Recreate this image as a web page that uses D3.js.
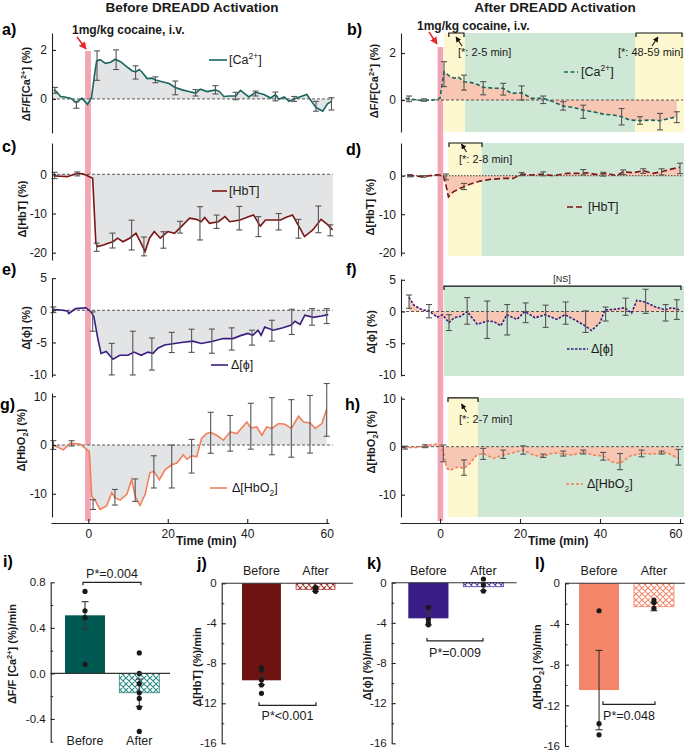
<!DOCTYPE html>
<html><head><meta charset="utf-8">
<script src="https://cdn.jsdelivr.net/npm/d3@7/dist/d3.min.js"></script>
<style>html,body{margin:0;padding:0;background:#fff;}svg{display:block;font-family:Arial,"Liberation Sans",Helvetica,sans-serif;}</style>
</head><body><script>
// ---------------- DATA ----------------
const timeTicks=[0,20,40,60];
const caBefore=[[-8.7,0.37],[-8,0.3],[-7,0.1],[-6,0.08],[-4.5,0.03],[-3,-0.15],[-1.6,0.03],[-0.2,-0.22],[0.8,0.05],[1.5,0.9],[2.1,1.55],[3,1.6],[4.3,1.45],[5.6,1.5],[6.8,1.62],[8.1,1.52],[9.8,1.3],[11,1.15],[11.9,1.1],[12.8,1.2],[13.5,1.1],[14.8,0.83],[16,0.85],[16.9,0.77],[18.6,0.7],[20.3,0.63],[21.9,0.47],[23.6,0.37],[25.3,0.3],[27,0.24],[28.2,0.4],[29.9,0.3],[32,0.37],[33,0.3],[34.1,0.1],[35.5,0.12],[37.1,0.12],[38.3,0.35],[39.5,0.2],[40.4,0.08],[42.1,0.27],[44.2,0.18],[45.9,0.04],[47.1,0.18],[48,-0.01],[49.3,0.08],[50.5,-0.1],[51.8,0.0],[53.5,0.1],[55,0.18],[56.4,-0.15],[57.3,-0.35],[59,-0.5],[60.2,-0.2],[61.2,-0.1]];
const caBeforeErr=[[-8.4,0.35,0.12],[-3,-0.25,0.13],[2.2,1.36,0.6],[7,1.6,0.4],[11.9,1.08,0.27],[16.9,0.78,0.12],[21.9,0.45,0.28],[27,0.25,0.13],[32,0.37,0.17],[37.1,0.12,0.15],[42.1,0.22,0.1],[47.1,0.1,0.18],[51.8,0.0,0.1],[57.3,-0.3,0.2],[61.2,-0.2,0.25]];
const caAfter=[[-8.6,0.07],[-7.5,0.05],[-5.7,0],[-4.2,-0.02],[-1.7,0],[0,0.07],[1,1.2],[2.5,1.0],[3.5,0.93],[4.6,0.97],[6,0.78],[7.9,0.74],[9.5,0.65],[10.8,0.54],[13.3,0.5],[15.8,0.5],[17.9,0.28],[20.4,0.31],[22.9,0.07],[25.8,0.07],[28.3,-0.07],[30.8,-0.26],[33.3,-0.31],[35.8,-0.43],[38.3,-0.5],[40.8,-0.6],[43.3,-0.64],[45.4,-0.71],[47.5,-0.85],[50,-0.88],[52.5,-0.85],[55,-0.88],[57.5,-0.78],[59.2,-0.71]];
const caAfterErr=[[-7.75,0.05,0.12],[-4,0,0.05],[1,1.1,0.53],[6,0.74,0.32],[10.8,0.5,0.28],[15.8,0.46,0.25],[20.4,0.3,0.3],[25.8,0.01,0.16],[30.8,-0.25,0.18],[35.8,-0.5,0.28],[45.4,-0.71,0.35],[50,-0.87,0.16],[55,-0.92,0.35],[59.2,-0.73,0.23]];
const hbtBefore=[[-8.7,-0.4],[-7,-0.5],[-5.3,-0.6],[-4,-0.2],[-2.8,0.25],[-1.5,0.1],[-0.6,-0.2],[1.1,-1.0],[1.9,-17.6],[2.4,-18.45],[4,-18.0],[5,-17.6],[6.2,-17.2],[7.4,-16.3],[8.7,-17.2],[10.4,-16.3],[12,-15.05],[13.3,-17.6],[14.3,-19.7],[15.4,-16.3],[16.6,-14.6],[18.1,-16.3],[20,-14.6],[21.7,-15.05],[23.4,-13.35],[25.5,-11.2],[27.2,-11.5],[28.4,-12.1],[29.3,-11.0],[30.5,-12.5],[32.7,-12.1],[34.4,-10.8],[35.6,-12.1],[38.2,-11.65],[40.3,-10.8],[41.6,-10.4],[43.3,-13.2],[44.6,-11.65],[46.3,-11.65],[48.4,-11.65],[49.7,-11.0],[51.4,-10.4],[53.5,-14.2],[54.4,-15.9],[56.5,-14.2],[58.6,-11.5],[60.3,-12.9],[61.5,-14.2]];
const hbtBeforeErr=[[-8.5,-0.3,0.8],[-2.8,0.1,0.5],[2.1,-18.6,1.06],[6.1,-16.9,1.9],[10.9,-15.5,3.8],[14,-18.4,2.4],[18.9,-16.75,2.1],[23.1,-13.5,1.5],[28.1,-12.5,4.25],[32.3,-12.1,1.7],[38,-11.2,3],[42.8,-13.35,2.55],[47.9,-12.1,2.1],[52.9,-13.9,2.4],[57.9,-11.5,3.4],[60.9,-14.3,1.4]];
const hbtAfter=[[-8,0],[-6,-0.1],[-4.2,-0.26],[-2,0.1],[-0.8,0.26],[0.8,0.17],[1.4,-2],[2.1,-5.5],[3.3,-4.2],[5,-3.3],[7.5,-2.2],[10,-1.4],[12.5,-0.96],[15.8,-0.7],[18.3,-0.7],[20.4,0.43],[22.9,0.17],[25.8,0.43],[28.3,0],[31.7,0.6],[34.2,0.6],[36.7,0.78],[38.8,0.35],[41.7,0.6],[44.2,0],[45.8,1.04],[48.3,0.78],[50.8,1.3],[53.3,0.6],[55.4,1.04],[57.5,1.65],[60,2.2]];
const hbtAfterErr=[[-7.5,0,0.3],[-4.2,-0.2,0.2],[1.5,-0.3,0.75],[6,-2.8,0.8],[20.4,0.43,0.4],[25.8,0.5,0.5],[35.8,0.9,0.7],[40.8,0.4,0.5],[45.8,0.9,0.6],[50.8,1.2,0.6],[55.4,1.0,0.8],[60,1.9,1.35]];
const phiBefore=[[-8.7,0.1],[-7,0.05],[-5.3,-0.1],[-4.9,-0.5],[-3.2,0.26],[-0.6,0.4],[0.7,-0.26],[1.4,-1],[2.4,-4.4],[3.2,-6.7],[4.5,-6.4],[6.2,-7.6],[7.9,-7.0],[10,-7.0],[11.5,-6.5],[13.3,-7.0],[15,-6.5],[16.3,-6.7],[17.5,-5.9],[19.2,-5.4],[21.3,-5.2],[23.4,-5.0],[26.3,-4.8],[28.4,-5.15],[31.4,-4.8],[33.9,-4.4],[36.4,-4.4],[38.5,-3.9],[40.2,-3.6],[41.4,-3.9],[42.7,-3.1],[43.5,-3.9],[44.4,-2.6],[46.5,-3.1],[49,-2.7],[51.1,-2.3],[52,-1.7],[53.3,-2.2],[54.5,-0.77],[56.6,-1.1],[58.7,-0.9],[60.4,-0.67]];
const phiBeforeErr=[[-8.8,0.08,0.44],[1.1,-1.75,1.5],[5.9,-7.6,2.45],[11.2,-6.65,3.4],[16,-6.8,2.5],[21,-5.0,1.57],[26,-4.74,1.8],[31.1,-4.8,1.88],[36.1,-4.46,1.73],[41.2,-4.25,1.16],[46.2,-3.17,1.62],[51.2,-1.8,1.96],[56.3,-1.03,1.29],[60,-0.9,1.16]];
const phiAfter=[[-7.75,2.25],[-6.5,1.0],[-4.4,0.25],[-2.75,0.1],[-0.7,-0.9],[0.6,-0.5],[2.25,-1.75],[3.5,-1.0],[5.2,-0.75],[6.8,0],[9.3,-2.0],[11.8,-1.5],[13.5,-1.6],[15.2,-2.25],[16.7,-0.5],[19.2,-1.25],[21.25,0],[23.75,-1.0],[26.25,-0.5],[29.2,-1.25],[31.25,-0.5],[34.2,-1.5],[36.25,-2.25],[37.9,-3.0],[40,-1.75],[41.25,0.25],[43.75,0.35],[46.25,0.6],[47.9,-0.25],[49.2,1.75],[51.25,1.5],[53.75,0.75],[56.25,0.25],[57.9,0.6],[60,0.25]];
const phiAfterErr=[[-7.75,1.55,1.05],[-2.75,0.05,1.05],[2.25,-1.75,1.25],[6.8,0.1,2.1],[11.8,-1.3,2.95],[16.8,-1.3,2.4],[21.4,-0.2,1.55],[26.4,-0.75,1.75],[31.4,-0.25,1.75],[36.4,-1.6,1.7],[41.4,-0.4,1.1],[46.4,0.75,1.35],[51.4,1.6,1.9],[56.4,-0.2,1.3],[59.2,0.3,1.55]];
const hbo2Before=[[-8.8,0],[-6.3,-1.0],[-4.6,0.34],[-2.1,0.2],[-0.24,-1.0],[0.26,-1.35],[0.85,-10.5],[1.7,-11.3],[2.95,-13.2],[4.6,-12.5],[5.9,-9.8],[6.7,-10.8],[8.0,-11.3],[9.7,-10.1],[10.9,-7.1],[11.8,-10.5],[13.0,-12.4],[14.3,-10.1],[15.5,-5.7],[16.5,-5.4],[17.9,-7.1],[19.3,-5.1],[21.0,-4.05],[22.3,-3.7],[23.9,-2.0],[24.8,-2.9],[26.0,-2.2],[27.3,-2.4],[28.5,1.35],[29.8,2.36],[30.8,2.6],[32.3,2.0],[34.0,1.0],[35.7,2.7],[37.4,2.36],[39.9,4.7],[40.9,3.5],[42.4,3.7],[43.7,2.0],[44.9,3.7],[46.2,3.4],[47.9,4.4],[49.5,4.25],[51.1,3.4],[52.9,5.9],[54.2,4.7],[55.8,4.5],[57.1,3.4],[58.8,4.4],[60.0,7.4]];
const hbo2BeforeErr=[[-8.8,0,0.9],[-4.2,0.34,0.54],[1.2,-12.2,1],[6.7,-10.7,1.6],[11.8,-9.25,2.3],[16.5,-5.5,3.3],[21,-4.4,4.4],[26,-2.3,3.45],[30.8,2.5,4.2],[35.7,2.4,3.65],[40.9,3.85,4.7],[46.2,3.85,5.85],[51.1,3.4,5.9],[55.8,4.25,5.9],[60,7.2,5.4]];
const hbo2After=[[-9,-0.2],[-5.8,-0.15],[-3.75,0.2],[-0.83,0.56],[0,0.14],[0.83,-1.05],[1.67,-4.5],[2.5,-4.9],[4.6,-4.2],[6,-4.55],[7.5,-3.5],[9.2,-1.75],[10.8,-1.4],[13.3,-2.45],[15.8,-1.75],[18.3,-1.26],[20.8,-0.7],[23.3,-1.75],[25.8,-2.1],[28.3,-1.26],[30.8,-1.54],[33.3,-1.75],[35.8,-1.05],[38.3,-1.75],[40.8,-1.96],[42.9,-3.15],[45,-3.5],[47.5,-1.96],[50.4,-1.4],[52.9,-1.54],[55.4,-1.26],[57.1,-1.4],[59.6,-2.45]];
const hbo2AfterErr=[[-8.75,-0.2,0.3],[-3.75,0.1,0.3],[0.83,-1.4,1.75],[6,-4.35,1.6],[10.8,-1.5,1.15],[15.8,-1.57,0.87],[20.8,-0.7,0.87],[25.8,-1.9,0.35],[30.8,-1.43,0.52],[35.8,-1.12,0.42],[40.8,-2.0,0.8],[45,-3.1,1.68],[50.4,-1.4,0.7],[55.4,-1.22,0.31],[59.6,-2.2,1.64]];

const barGroups=["Before","After"];
const caRateMean=[0.51,-0.17], caRateErr=[0.12,0.12], caRatePts=[[0.72,0.55,0.49,0.08],[0.18,0,-0.09,-0.17,-0.22,-0.3,-0.51]];
const hbtRateMean=[-9.7,-0.6], hbtRateErr=[0.43,0.2], hbtRatePts=[[-8.44,-8.67,-9.67,-10.17,-11.0],[-0.4,-0.6,-0.8]];
const phiRateMean=[-3.55,-0.4], phiRateErr=[0.65,0.4], phiRatePts=[[-2.45,-3.65,-4.0,-4.2],[0.37,-0.23,-0.83]];
const hbo2RateMean=[-10.5,-2.3], hbo2RateErr=[3.9,0.4], hbo2RatePts=[[-2.7,-13.8,-14.9],[-1.64,-1.9,-2.46]];
const pLabels=["P*=0.004","P*<0.001","P*=0.009","P*=0.048"];

// ---------------- DRAW ----------------
const GREEN="#cfe8d5", YELLOW="#fdf8cf", PINK="#f2a6b3", TXT="#1a1a1a";
const svg=d3.select("body").append("svg").attr("width",685).attr("height",751);
const defs=svg.append("defs");
function marker(id,color){
  defs.append("marker").attr("id",id).attr("viewBox","0 0 10 10").attr("refX",9).attr("refY",5)
   .attr("markerWidth",5).attr("markerHeight",5).attr("orient","auto")
   .append("path").attr("d","M0,0L10,5L0,10z").attr("fill",color);
}
marker("arrRed","#e8262b"); marker("arrBlk","#111");
function hatch(id,color){
  const p=defs.append("pattern").attr("id",id).attr("patternUnits","userSpaceOnUse").attr("width",6).attr("height",6);
  p.append("rect").attr("width",6).attr("height",6).attr("fill","#fff");
  p.append("path").attr("d","M0,0L6,6M6,0L0,6M-1,5L1,7M5,-1L7,1M-1,1L1,-1M5,7L7,5").attr("stroke",color).attr("stroke-width",1.1);
}
const L={bg:svg.append("g"),pink:svg.append("g"),data:svg.append("g"),fg:svg.append("g")};

function rich(g,x,y,parts,o={}){
  const size=o.size||12;
  const t=g.append("text").attr("x",x).attr("y",y).attr("font-size",size).attr("fill",o.fill||TXT)
    .attr("font-weight",o.bold?"bold":null).attr("text-anchor",o.anchor||"start");
  if(o.rotate) t.attr("transform",`rotate(-90,${x},${y})`);
  let off=0;
  parts.forEach(([s,m])=>{
    const sp=t.append("tspan").text(s);
    const target=m==="sup"?-size*0.38:m==="sub"?size*0.28:0;
    if(target!==off){sp.attr("dy",target-off);off=target;}
    if(m) sp.attr("font-size",size*0.68);
  });
  return t;
}

const xL=d3.scaleLinear().domain([0,60]).range([88.3,326.7]);
const xR=d3.scaleLinear().domain([0,60]).range([440,680]);

const caLab=[["ΔF/F[Ca"],["2+","sup"],["] (%)"]], caLeg=[["[Ca"],["2+","sup"],["]"]];
const hbo2Lab=[["Δ[HbO"],["2","sub"],["] (%)"]], hbo2Leg=[["Δ[HbO"],["2","sub"],["]"]];
const tsPanels=[
 {x:xL,axX:52,dom:[-1.39,2.69],rng:[133,33],ticks:[0,2],data:caBefore,err:caBeforeErr,color:"#17665e",dash:null,fill:"#e3e4e6",
  ylab:caLab,ylx:30,yly:84,leg:{x0:209,x1:227,y:60,ty:64,tx:229,parts:caLeg},letter:["a)",2,35]},
 {x:xR,axX:401,dom:[-1.36,2.85],rng:[132,33],ticks:[0,2],data:caAfter,err:caAfterErr,color:"#17665e",dash:"4,2.5",fill:"#f7c7b3",
  ylab:caLab,ylx:378,yly:81,leg:{x0:564,x1:578,y:72,ty:76,tx:581,parts:caLeg},letter:["b)",347,35],
  bg:{hi:2.85,green:[1,61],yellow:[[1,6.25],[48.75,61]]},
  brackets:[{t0:2.2,t1:6,label:"[*: 2-5 min]",lx:458,ly:56,arrow:[462,46,456,37]},{t0:49,t1:60.5,label:"[*: 48-59 min]",lx:618,ly:56,arrow:[652,46,658,37]}]},
 {x:xL,axX:52,dom:[-21.86,7.98],rng:[260,143],ticks:[-20,-10,0],data:hbtBefore,err:hbtBeforeErr,color:"#7a1616",dash:null,fill:"#e3e4e6",
  ylab:[["Δ[HbT] (%)"]],ylx:26,yly:209,leg:{x0:212,x1:227,y:191,ty:195,tx:229,parts:[["[HbT]"]]},letter:["c)",2,152]},
 {x:xR,axX:401,dom:[-20.86,8.5],rng:[256,143],ticks:[-20,-10,0],data:hbtAfter,err:hbtAfterErr,color:"#7a1616",dash:"6,3",fill:"#f7c7b3",zdash:"1.5,1.5",
  ylab:[["Δ[HbT] (%)"]],ylx:374,yly:207,leg:{x0:567,x1:585,y:207,ty:211,tx:588,parts:[["[HbT]"]]},letter:["d)",346,155],
  bg:{hi:8.5,green:[2,61],yellow:[[2,10.4]]},
  brackets:[{t0:2.25,t1:10.5,label:"[*: 2-8 min]",lx:459,ly:163,arrow:[466.5,152,461.5,144]}]},
 {x:xL,axX:52,dom:[-10.37,5.02],rng:[377,278],ticks:[-10,-5,0,5],data:phiBefore,err:phiBeforeErr,color:"#3a1c80",dash:null,fill:"#e3e4e6",
  ylab:[["Δ[ϕ] (%)"]],ylx:30,yly:328,leg:{x0:211,x1:228,y:365,ty:369,tx:231,parts:[["Δ[ϕ]"]]},letter:["e)",2,275]},
 {x:xR,axX:401,dom:[-10.16,5.12],rng:[376,279],ticks:[-10,-5,0,5],data:phiAfter,err:phiAfterErr,color:"#3a1c80",dash:"2.5,1.5",fill:"#f7c7b3",
  ylab:[["Δ[ϕ] (%)"]],ylx:375,yly:332,leg:{x0:567,x1:588,y:349,ty:353,tx:591,parts:[["Δ[ϕ]"]]},letter:["f)",346,275],
  bg:{hi:4.0,green:[1,61],yellow:[]},
  brackets:[{t0:1,t1:60.25,label:"[NS]",lx:562,ly:282,anchor:"middle",size:9}]},
 {x:xL,axX:52,dom:[-14.75,10.66],rng:[517,393],ticks:[-10,0,10],data:hbo2Before,err:hbo2BeforeErr,color:"#f27f5b",dash:null,fill:"#e3e4e6",
  ylab:hbo2Lab,ylx:25,yly:440,leg:{x0:210,x1:227,y:488,ty:492,tx:232,parts:hbo2Leg},letter:["g)",0,410]},
 {x:xR,axX:401,dom:[-14.65,10.56],rng:[517,396],ticks:[-10,0,10],data:hbo2After,err:hbo2AfterErr,color:"#f27f5b",dash:"3,2",fill:"#f7c7b3",
  ylab:hbo2Lab,ylx:375,yly:442,leg:{x0:566,x1:583,y:484,ty:488,tx:587,parts:hbo2Leg},letter:["h)",345,410],
  bg:{hi:10.15,green:[2,61],yellow:[[2,9.5]]},
  brackets:[{t0:2,t1:9.5,label:"[*: 2-7 min]",lx:459,ly:423,arrow:[466.5,412,461.5,404]}]}
];

tsPanels.forEach(p=>{
  const x=p.x, y=d3.scaleLinear().domain(p.dom).range(p.rng);
  const xb=p.x===xL?61.5:60.8;
  if(p.bg){
    const yt=y(p.bg.hi), yb=p.rng[0];
    L.bg.append("rect").attr("x",x(p.bg.green[0])).attr("y",yt).attr("width",x(p.bg.green[1])-x(p.bg.green[0])).attr("height",yb-yt).attr("fill",GREEN);
    p.bg.yellow.forEach(([a,b])=>L.bg.append("rect").attr("x",x(a)).attr("y",yt).attr("width",x(b)-x(a)).attr("height",yb-yt).attr("fill",YELLOW));
    (p.brackets||[]).forEach(b=>{
      const by=yt;
      L.fg.append("path").attr("d",`M${x(b.t0)},${by+4}V${by}H${x(b.t1)}V${by+4}`).attr("fill","none").attr("stroke","#111").attr("stroke-width",1.2);
      L.fg.append("text").attr("x",b.lx).attr("y",b.ly).attr("font-size",b.size||11).attr("text-anchor",b.anchor||"start").attr("fill",TXT).text(b.label);
      if(b.arrow) L.fg.append("line").attr("x1",b.arrow[0]).attr("y1",b.arrow[1]).attr("x2",b.arrow[2]).attr("y2",b.arrow[3]).attr("stroke","#111").attr("stroke-width",1.1).attr("marker-end","url(#arrBlk)");
    });
  }
  L.data.append("path").datum(p.data).attr("d",d3.area().x(d=>x(d[0])).y0(y(0)).y1(d=>y(d[1]))).attr("fill",p.fill);
  L.data.append("line").attr("x1",p.axX).attr("x2",x(xb)).attr("y1",y(0)).attr("y2",y(0))
    .attr("stroke","#333").attr("stroke-width",p.zdash?1.1:0.8).attr("stroke-dasharray",p.zdash||"3,2");
  L.data.append("path").datum(p.data).attr("d",d3.line().x(d=>x(d[0])).y(d=>y(d[1]))).attr("fill","none")
    .attr("stroke",p.color).attr("stroke-width",1.6).attr("stroke-dasharray",p.dash);
  const eg=L.data.append("g").attr("stroke","#555").attr("stroke-width",1.1);
  p.err.forEach(([t,m,e])=>{
    const cx=x(t);
    eg.append("line").attr("x1",cx).attr("x2",cx).attr("y1",y(m-e)).attr("y2",y(m+e));
    eg.append("line").attr("x1",cx-3).attr("x2",cx+3).attr("y1",y(m-e)).attr("y2",y(m-e));
    eg.append("line").attr("x1",cx-3).attr("x2",cx+3).attr("y1",y(m+e)).attr("y2",y(m+e));
  });
  const ax=L.fg.append("g").attr("transform",`translate(${p.axX},0)`)
    .call(d3.axisLeft(y).tickValues(p.ticks).tickSizeInner(-4).tickSizeOuter(0).tickPadding(5).tickFormat(v=>String(v)));
  ax.attr("font-family",null).attr("font-size",12);
  ax.selectAll("text").attr("fill",TXT);
  ax.selectAll("line,path").attr("stroke","#222").attr("stroke-width",1.1);
  rich(L.fg,p.ylx,p.yly,p.ylab,{size:11,bold:true,rotate:true,anchor:"middle"});
  L.fg.append("line").attr("x1",p.leg.x0).attr("x2",p.leg.x1).attr("y1",p.leg.y).attr("y2",p.leg.y)
    .attr("stroke",p.color).attr("stroke-width",1.6).attr("stroke-dasharray",p.dash);
  rich(L.fg,p.leg.tx,p.leg.ty,p.leg.parts,{size:12.5});
  L.fg.append("text").attr("x",p.letter[1]).attr("y",p.letter[2]).attr("font-size",16).attr("font-weight","bold").attr("fill","#000").text(p.letter[0]);
});

// pink injection bars
L.pink.append("rect").attr("x",xL(-0.8)).attr("width",xL(0.65)-xL(-0.8)).attr("y",51).attr("height",470).attr("fill",PINK);
L.pink.append("rect").attr("x",xR(-0.6)).attr("width",xR(0.8)-xR(-0.6)).attr("y",47).attr("height",474).attr("fill",PINK);

// time axes
[[xL,51,329,176],[xR,400,683,528]].forEach(([x,a,b,lx],ci)=>{
  const xs=x.copy().domain([x.invert(a),x.invert(b)]).range([a,b]);
  const ax=L.fg.append("g").attr("transform","translate(0,523)")
    .call(d3.axisBottom(xs).tickValues(timeTicks).tickSizeInner(-4).tickSizeOuter(0).tickPadding(6.5).tickFormat(v=>String(v)));
  ax.attr("font-family",null).attr("font-size",12);
  ax.selectAll("text").attr("fill",TXT);
  if(ci===1) ax.selectAll(".tick text").filter(d=>d===60).attr("text-anchor","end").attr("dx",2);
  ax.selectAll("line,path").attr("stroke","#222").attr("stroke-width",1.1);
  L.fg.append("text").attr("x",lx).attr("y",545).attr("font-size",12).attr("font-weight","bold").attr("fill",TXT).text("Time (min)");
});

// titles & annotations
L.fg.append("text").attr("x",192).attr("y",12).attr("text-anchor","middle").attr("font-size",13.5).attr("font-weight","bold").attr("fill",TXT).text("Before DREADD Activation");
L.fg.append("text").attr("x",555).attr("y",12).attr("text-anchor","middle").attr("font-size",13.5).attr("font-weight","bold").attr("fill",TXT).text("After DREADD Activation");
L.fg.append("text").attr("x",72).attr("y",34).attr("font-size",12).attr("font-weight","bold").attr("fill",TXT).text("1mg/kg cocaine, i.v.");
L.fg.append("text").attr("x",417).attr("y",30).attr("font-size",12).attr("font-weight","bold").attr("fill",TXT).text("1mg/kg cocaine, i.v.");
L.fg.append("line").attr("x1",77).attr("y1",37).attr("x2",86).attr("y2",49).attr("stroke","#e8262b").attr("stroke-width",1.5).attr("marker-end","url(#arrRed)");
L.fg.append("line").attr("x1",429).attr("y1",32).attr("x2",437).attr("y2",44).attr("stroke","#e8262b").attr("stroke-width",1.5).attr("marker-end","url(#arrRed)");

// ---------------- BAR PANELS ----------------
const fmt1=v=>v.toFixed(1), fmt0=v=>String(v);
const barPanels=[
 {axX:50.7,dom:[-0.6,0.8],rng:[741.7,582.3],majors:[-0.4,0,0.4,0.8],minors:[-0.6,-0.2,0.2,0.6],fmt:fmt1,band:[65,159.3],pad:0.263,zeroEnd:170,
  color:"#005852",hatch:"#2a8a83",mean:caRateMean,err:caRateErr,pts:caRatePts,p:pLabels[0],br:{v:0.8,dir:1,x0:83,x1:141,ty:578},catY:745,
  ylab:[["ΔF/F [Ca"],["2+","sup"],["] (%)/min"]],ylx:16,yly:654,letter:["i)",3,567]},
 {axX:221.7,dom:[-16,0],rng:[743.3,583.3],majors:[-16,-12,-8,-4,0],minors:[-14,-10,-6,-2],fmt:fmt0,band:[242,335],pad:0.28,zeroEnd:353,
  color:"#6e1212",hatch:"#a83a34",mean:hbtRateMean,err:hbtRateErr,pts:hbtRatePts,p:pLabels[1],br:{v:-12.2,dir:-1,x0:259,x1:316,ty:719.5},catY:575,
  ylab:[["Δ[HbT] (%)/min"]],ylx:201,yly:667,letter:["j)",197,569]},
 {axX:391.7,dom:[-16,0],rng:[743.3,582.7],majors:[-16,-12,-8,-4,0],minors:[-14,-10,-6,-2],fmt:fmt0,band:[408.3,503.5],pad:0.27,zeroEnd:516.7,
  color:"#3a1d86",hatch:"#5b40b0",mean:phiRateMean,err:phiRateErr,pts:phiRatePts,p:pLabels[2],br:{v:-5.8,dir:-1,x0:427,x1:483,ty:657},catY:575,
  ylab:[["Δ[ϕ] (%)/min"]],ylx:371,yly:667,letter:["k)",367,569]},
 {axX:565,dom:[-16,0],rng:[746,583.3],majors:[-16,-12,-8,-4,0],minors:[-14,-10,-6,-2],fmt:fmt0,band:[579,674],pad:0.27,zeroEnd:685,
  color:"#f4876a",hatch:"#f4876a",mean:hbo2RateMean,err:hbo2RateErr,pts:hbo2RatePts,p:pLabels[3],br:{v:-11.9,dir:-1,x0:603,x1:655,ty:719.5},catY:575,
  ylab:[["Δ[HbO"],["2","sub"],["] (%)/min"]],ylx:541,yly:667,letter:["l)",535,569]}
];
barPanels.forEach((b,i)=>{
  const y=d3.scaleLinear().domain(b.dom).range(b.rng);
  const x=d3.scaleBand().domain(barGroups).range(b.band).paddingInner(b.pad).paddingOuter(0);
  hatch("h"+i,b.hatch);
  const g=L.data.append("g");
  barGroups.forEach((k,j)=>{
    const v=b.mean[j], y0=y(0), y1=y(v);
    g.append("rect").attr("x",x(k)).attr("width",x.bandwidth()).attr("y",Math.min(y0,y1)).attr("height",Math.abs(y1-y0))
      .attr("fill",j===0?b.color:`url(#h${i})`).attr("stroke",j===0?"none":b.hatch).attr("stroke-width",0.8);
    const cx=x(k)+x.bandwidth()/2, e=b.err[j];
    const eg=g.append("g").attr("stroke","#333").attr("stroke-width",1.1);
    eg.append("line").attr("x1",cx).attr("x2",cx).attr("y1",y(v-e)).attr("y2",y(v+e));
    [v-e,v+e].forEach(w=>eg.append("line").attr("x1",cx-3.5).attr("x2",cx+3.5).attr("y1",y(w)).attr("y2",y(w)));
    b.pts[j].forEach(pv=>g.append("circle").attr("cx",cx).attr("cy",y(pv)).attr("r",2.6).attr("fill","#1a1a1a"));
    L.fg.append("text").attr("x",cx).attr("y",b.catY).attr("text-anchor","middle").attr("font-size",12.5).attr("fill",TXT).text(k);
  });
  L.fg.append("line").attr("x1",b.axX).attr("x2",b.zeroEnd).attr("y1",y(0)).attr("y2",y(0)).attr("stroke","#333").attr("stroke-width",1.1);
  const ax=L.fg.append("g").attr("transform",`translate(${b.axX},0)`)
    .call(d3.axisLeft(y).tickValues(b.majors).tickSizeInner(-4).tickSizeOuter(0).tickPadding(5).tickFormat(b.fmt));
  ax.attr("font-family",null).attr("font-size",11.5);
  ax.selectAll("text").attr("fill",TXT);
  ax.selectAll("line,path").attr("stroke","#222").attr("stroke-width",1.1);
  const mn=L.fg.append("g").attr("transform",`translate(${b.axX},0)`)
    .call(d3.axisLeft(y).tickValues(b.minors).tickSizeInner(-2.5).tickSizeOuter(0).tickFormat(""));
  mn.select(".domain").remove();
  mn.selectAll("line").attr("stroke","#222").attr("stroke-width",1);
  const by=y(b.br.v), d=b.br.dir*3;
  L.fg.append("path").attr("d",`M${b.br.x0},${by+d}V${by}H${b.br.x1}V${by+d}`).attr("fill","none").attr("stroke","#222").attr("stroke-width",1.2);
  L.fg.append("text").attr("x",(b.br.x0+b.br.x1)/2).attr("y",b.br.ty).attr("text-anchor","middle").attr("font-size",12.5).attr("fill",TXT).text(b.p);
  rich(L.fg,b.ylx,b.yly,b.ylab,{size:11,bold:true,rotate:true,anchor:"middle"});
  L.fg.append("text").attr("x",b.letter[1]).attr("y",b.letter[2]).attr("font-size",16).attr("font-weight","bold").attr("fill","#000").text(b.letter[0]);
});
</script></body></html>
